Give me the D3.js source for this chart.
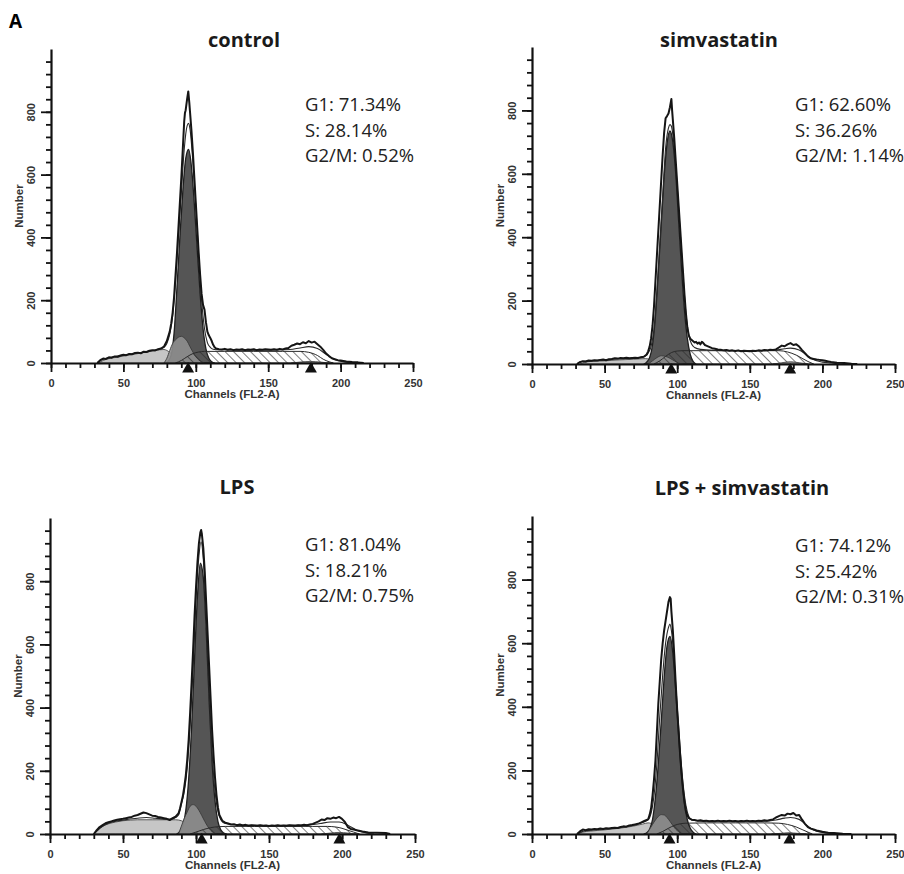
<!DOCTYPE html>
<html>
<head>
<meta charset="utf-8">
<script src="https://cdn.jsdelivr.net/npm/d3@7"></script>
<style>
  body { margin: 0; background: #fff; }
  svg { display: block; }
</style>
</head>
<body>
<div id="chart"></div>
<script>
// panel titles and ModFit percentages
const titles = ["control", "simvastatin", "LPS", "LPS + simvastatin"];
const controlStats = ["G1: 71.34%", "S: 28.14%", "G2/M: 0.52%"];
const simStats = ["G1: 62.60%", "S: 36.26%", "G2/M: 1.14%"];
const lpsStats = ["G1: 81.04%", "S: 18.21%", "G2/M: 0.75%"];
const lsStats = ["G1: 74.12%", "S: 25.42%", "G2/M: 0.31%"];

// peak means (channel) marked with triangles
const controlMarks = [94.7, 179.5];
const simMarks = [95.9, 177.8];
const lpsMarks = [103.9, 198.2];
const lsMarks = [94.7, 177.3];

// [channel, count]
const controlRaw = [[32,0],[34,9],[36,14],[38,13],[40,18],[42,17],[44,21],[46,20],[48,24],[50,26],[52,25],[54,29],[56,28],[58,32],[60,33],[62,31],[64,36],[66,35],[68,39],[70,41],[72,40],[74,44],[76,46],[78,52],[80,70],[82,100],[83,125],[84,160],[85,210],[86,280],[87,350],[88,430],[89,510],[90,590],[91,680],[92,770],[92.5,796],[93,805],[94,840],[94.8,865],[95.5,830],[96,800],[97,740],[98,670],[99,590],[100,510],[101,430],[102,350],[103,280],[104,220],[105,185],[106,170],[107,130],[108,100],[109,88],[110,80],[111,70],[112,58],[113,50],[114,46],[116,44],[118,43],[120,45],[122,42],[124,44],[126,41],[128,43],[130,42],[132,44],[134,41],[136,43],[138,42],[140,44],[142,41],[144,43],[146,42],[148,44],[150,43],[152,42],[154,44],[156,42],[158,45],[160,43],[162,46],[164,48],[166,55],[168,58],[170,62],[172,60],[174,66],[176,63],[178,70],[180,65],[182,68],[184,60],[186,52],[188,42],[190,30],[192,22],[194,15],[196,12],[198,9],[200,8],[204,5],[208,3],[212,2],[216,0]];
const controlFit = [[32,0],[34,8],[40,17],[50,25],[60,32],[70,40],[76,46],[78,50],[80,62],[82,92],[84,150],[86,260],[88,400],[90,540],[92,680],[94,755],[95,763],[96,745],[98,640],[100,500],[102,340],[104,200],[106,110],[108,65],[110,50],[112,44],[116,42],[130,41],[150,41],[165,43],[172,48],[178,52],[184,46],[190,28],[195,13],[200,6],[205,2],[210,0]];
const controlDebris = [[33,0],[36,8],[40,14],[45,18],[50,22],[55,26],[60,30],[65,34],[70,38],[75,42],[78,43],[80,40],[82,34],[84,26],[86,18],[88,10],[90,4],[92,0]];
const controlHump = [[78,0],[80,15],[82,40],[84,62],[86,74],[88,82],[90,85],[92,80],[94,70],[96,52],[98,35],[100,20],[102,10],[104,4],[106,0]];
const controlG1 = [[79,0],[81,6],[83,25],[85,95],[87,240],[89,400],[91,545],[93,650],[95,680],[97,625],[99,505],[101,360],[103,220],[105,110],[107,45],[109,15],[111,4],[113,0]];
const controlS = [[86,0],[90,8],[94,20],[98,30],[102,35],[106,37],[120,37],[140,37],[160,37],[172,37],[178,34],[184,24],[188,12],[192,4],[195,0]];
const controlG2 = [[166,0],[172,3],[179,5],[186,3],[192,0]];

const simRaw = [[31,0],[33,6],[35,9],[37,8],[39,11],[41,10],[43,12],[45,11],[47,13],[49,14],[51,12],[53,15],[55,16],[57,18],[59,17],[61,19],[63,18],[65,20],[67,18],[69,19],[71,20],[73,19],[75,21],[77,23],[79,30],[80,40],[81,55],[82,80],[83,120],[84,180],[85,260],[86,340],[87,420],[88,500],[89,580],[90,660],[91,730],[92,775],[93,782],[94,790],[95,810],[96,836],[96.5,800],[97,770],[98,710],[99,640],[100,570],[101,500],[102,430],[103,360],[104,290],[105,220],[106,160],[107,115],[108,90],[109,80],[110,76],[111,72],[112,68],[113,70],[114,64],[115,68],[116,62],[117,70],[118,66],[119,60],[120,58],[122,54],[124,50],[126,48],[128,46],[130,45],[132,43],[134,44],[136,42],[138,43],[140,41],[142,43],[144,40],[146,42],[148,41],[150,40],[152,42],[154,41],[156,43],[158,42],[160,44],[162,43],[164,45],[166,44],[168,46],[170,52],[172,58],[174,56],[176,62],[178,66],[180,60],[182,62],[184,55],[186,44],[188,34],[190,24],[192,18],[194,16],[196,14],[198,13],[200,12],[202,10],[204,8],[206,6],[210,4],[215,3],[220,1],[224,0]];
const simFit = [[31,0],[33,6],[40,10],[50,13],[60,17],[70,19],[76,22],[78,25],[80,35],[82,55],[84,110],[86,230],[88,380],[90,530],[92,680],[94,745],[95,755],[96,750],[98,680],[100,560],[102,420],[104,280],[106,160],[108,90],[110,62],[112,52],[116,46],[125,43],[140,42],[160,42],[168,44],[174,48],[178,50],[184,44],[188,32],[192,18],[196,10],[200,6],[206,3],[212,0]];
const simDebris = [[33,0],[36,5],[40,8],[50,10],[60,13],[70,15],[78,17],[82,14],[86,9],[90,4],[94,0]];
const simHump = [[80,0],[83,10],[86,20],[89,26],[92,24],[95,18],[98,10],[101,3],[104,0]];
const simG1 = [[77,0],[79,6],[81,20],[83,60],[85,150],[87,290],[89,440],[91,590],[93,695],[95,735],[97,700],[99,600],[101,450],[103,300],[105,170],[107,80],[109,30],[111,8],[113,0]];
const simS = [[84,0],[88,10],[92,24],[96,36],[100,41],[104,42],[120,42],[140,42],[160,42],[170,42],[176,38],[182,28],[186,18],[190,8],[194,0]];
const simG2 = [[166,0],[172,4],[178,7],[184,4],[190,0]];

const lpsRaw = [[30,0],[32,12],[34,22],[36,28],[38,34],[40,37],[42,40],[44,43],[46,45],[48,47],[50,48],[52,50],[54,52],[56,54],[58,58],[60,60],[62,64],[64,68],[66,66],[68,62],[70,58],[72,57],[74,54],[76,52],[78,50],[80,48],[82,44],[84,50],[86,55],[88,65],[89,80],[90,100],[91,120],[92,150],[93,185],[94,235],[95,300],[96,385],[97,480],[98,580],[99,690],[100,780],[101,860],[102,920],[103,955],[103.5,962],[104,950],[105,905],[106,830],[107,730],[108,630],[109,530],[110,430],[111,330],[112,250],[113,180],[114,125],[115,85],[116,60],[118,42],[120,36],[122,33],[124,30],[126,31],[128,28],[130,30],[132,27],[134,29],[136,26],[138,28],[140,27],[142,26],[144,28],[146,26],[148,27],[150,25],[152,27],[154,26],[156,28],[158,26],[160,27],[162,26],[164,28],[166,27],[168,26],[170,28],[172,27],[174,29],[176,28],[178,30],[180,32],[182,36],[184,40],[186,46],[188,44],[190,50],[192,48],[194,52],[196,50],[198,54],[200,48],[202,38],[204,22],[206,16],[208,14],[210,12],[214,8],[218,5],[224,4],[230,3],[233,0]];
const lpsFit = [[30,0],[34,18],[40,34],[50,44],[60,50],[66,52],[72,50],[80,47],[84,48],[86,52],[88,60],[90,95],[92,135],[94,210],[96,345],[98,520],[100,740],[102,880],[103.4,925],[105,870],[107,690],[109,460],[111,260],[113,135],[115,72],[117,45],[120,33],[130,28],[150,27],[175,28],[185,33],[192,38],[198,38],[204,28],[210,12],[216,4],[222,0]];
const lpsDebris = [[30,0],[33,12],[36,24],[40,32],[45,38],[50,42],[55,44],[60,45],[70,45],[80,45],[86,45],[90,42],[94,32],[98,18],[102,6],[105,0]];
const lpsHump = [[88,0],[90,25],[92,50],[94,70],[96,88],[98,93],[100,88],[102,75],[104,58],[106,40],[108,24],[110,12],[112,4],[114,0]];
const lpsG1 = [[87,0],[89,8],[91,26],[93,74],[95,175],[97,339],[99,555],[101,752],[103,857],[105,812],[107,643],[109,422],[111,229],[113,106],[115,40],[117,13],[119,3],[121,0]];
const lpsS = [[96,0],[100,6],[105,14],[110,20],[115,23],[120,24],[140,24],[160,24],[180,24],[190,24],[196,22],[200,18],[204,12],[208,6],[212,0]];
const lpsG2 = [[186,0],[192,3],[198,5],[204,3],[210,0]];

const lsRaw = [[31,0],[33,8],[35,14],[37,12],[39,15],[41,14],[43,16],[45,15],[47,17],[49,16],[51,18],[53,17],[55,19],[57,20],[59,19],[61,22],[63,24],[65,23],[67,27],[69,28],[71,30],[73,32],[75,36],[77,40],[79,44],[80,46],[81,60],[82,80],[83,120],[84,170],[85,230],[86,320],[87,410],[88,480],[89,550],[90,600],[91,640],[92,670],[93,700],[94,730],[95,745],[95.5,740],[96,700],[97,640],[98,560],[99,470],[100,390],[101,320],[102,250],[103,190],[104,140],[105,100],[106,72],[107,58],[108,50],[110,45],[112,44],[114,42],[116,43],[118,41],[120,42],[122,40],[124,41],[126,40],[128,42],[130,40],[132,41],[134,40],[136,42],[138,40],[140,41],[142,39],[144,41],[146,40],[148,42],[150,40],[152,41],[154,40],[156,42],[158,41],[160,43],[162,42],[164,44],[166,46],[168,52],[170,56],[172,60],[174,58],[176,64],[178,62],[180,66],[182,58],[184,60],[186,45],[188,32],[190,22],[192,17],[194,14],[196,11],[200,7],[204,4],[208,3],[214,1],[220,0]];
const lsFit = [[31,0],[33,5],[40,12],[50,16],[60,20],[70,28],[76,36],[80,45],[82,65],[84,120],[86,220],[88,370],[90,500],[92,600],[94,650],[95,660],[96,640],[98,540],[100,400],[102,270],[104,160],[106,90],[108,55],[110,44],[114,41],[120,40],[140,40],[160,40],[168,44],[174,50],[178,52],[184,46],[188,32],[192,18],[196,9],[200,5],[206,2],[212,0]];
const lsDebris = [[32,0],[35,6],[40,9],[50,13],[60,18],[70,25],[76,31],[80,35],[84,30],[88,22],[92,12],[96,4],[100,0]];
const lsHump = [[79,0],[81,15],[83,30],[85,44],[87,55],[89,61],[91,60],[93,52],[95,40],[97,27],[99,15],[101,7],[103,0]];
const lsG1 = [[77,0],[79,4],[81,15],[83,45],[85,115],[87,221],[89,353],[91,491],[93,591],[95,621],[97,568],[99,450],[101,311],[103,187],[105,98],[107,44],[109,18],[111,6],[113,0]];
const lsS = [[86,0],[90,8],[94,18],[98,27],[102,32],[106,34],[120,35],[140,35],[160,35],[170,34],[176,30],[182,22],[186,14],[190,6],[193,0]];
const lsG2 = [[165,0],[171,2],[177,4],[183,2],[189,0]];

const xMajor = [0, 50, 100, 150, 200, 250];
const yMajor = [0, 200, 400, 600, 800];

// where each panel sits on the page
const layout = [
    { left: 51, right: 413, axisY: 363, topY: 49, titleX: 244, titleY: 47, statX: 305, statY: 111 },
    { left: 532, right: 895, axisY: 364, topY: 47, titleX: 719, titleY: 47, statX: 795, statY: 111 },
    { left: 50, right: 415, axisY: 834, topY: 518, titleX: 237, titleY: 494, statX: 305, statY: 551 },
    { left: 532, right: 895, axisY: 834, topY: 516, titleX: 742, titleY: 495, statX: 795, statY: 552 }
];

const panels = [
    { raw: controlRaw, fit: controlFit, debris: controlDebris, hump: controlHump, g1: controlG1, s: controlS, g2: controlG2, marks: controlMarks, stats: controlStats },
    { raw: simRaw, fit: simFit, debris: simDebris, hump: simHump, g1: simG1, s: simS, g2: simG2, marks: simMarks, stats: simStats },
    { raw: lpsRaw, fit: lpsFit, debris: lpsDebris, hump: lpsHump, g1: lpsG1, s: lpsS, g2: lpsG2, marks: lpsMarks, stats: lpsStats },
    { raw: lsRaw, fit: lsFit, debris: lsDebris, hump: lsHump, g1: lsG1, s: lsS, g2: lsG2, marks: lsMarks, stats: lsStats }
];

const W = 904, H = 874;
const axisFont = "'Liberation Sans', Arial, sans-serif";

const svg = d3.select("#chart")
    .append("svg")
    .attr("width", W)
    .attr("height", H);

// hatch for the S phase
svg.append("defs")
    .append("pattern")
    .attr("id", "hatch")
    .attr("patternUnits", "userSpaceOnUse")
    .attr("width", 6)
    .attr("height", 6)
    .attr("patternTransform", "rotate(-45)")
    .append("line")
    .attr("x1", 0).attr("y1", 0)
    .attr("x2", 0).attr("y2", 6)
    .attr("stroke", "#2a2a2a")
    .attr("stroke-width", 1.2);

svg.append("text")
    .attr("x", 9)
    .attr("y", 28)
    .style("font-family", "'Open Sans', sans-serif")
    .style("font-weight", 700)
    .style("font-size", "19px")
    .text("A");

panels.forEach(function (p, i) {
    const L = layout[i];
    const x = d3.scaleLinear().domain([0, 250]).range([L.left, L.right]);
    const y = d3.scaleLinear().domain([0, 1000]).range([L.axisY, L.topY]);
    const g = svg.append("g");

    const area = d3.area()
        .x(d => x(d[0]))
        .y0(y(0))
        .y1(d => y(d[1]))
        .curve(d3.curveMonotoneX);
    const smooth = d3.line()
        .x(d => x(d[0]))
        .y(d => y(d[1]))
        .curve(d3.curveMonotoneX);
    const jagged = d3.line()
        .x(d => x(d[0]))
        .y(d => y(d[1]));

    // model components (second diploid bump sits over the G1 peak)
    g.append("path").datum(p.debris).attr("d", area)
        .attr("fill", "#c6c6c6").attr("stroke", "#4a4a4a").attr("stroke-width", 0.9);
    g.append("path").datum(p.g1).attr("d", area)
        .attr("fill", "#555").attr("stroke", "#1e1e1e").attr("stroke-width", 1.3);
    g.append("path").datum(p.hump).attr("d", area)
        .attr("fill", "#8e8e8e").attr("fill-opacity", 0.9)
        .attr("stroke", "#3a3a3a").attr("stroke-width", 0.9);
    g.append("path").datum(p.s).attr("d", area)
        .attr("fill", "url(#hatch)").attr("stroke", "#2a2a2a").attr("stroke-width", 1);
    g.append("path").datum(p.g2).attr("d", area)
        .attr("fill", "#8e8e8e").attr("stroke", "#3a3a3a").attr("stroke-width", 0.8);

    // model sum and raw histogram
    g.append("path").datum(p.fit).attr("d", smooth)
        .attr("fill", "none").attr("stroke", "#2a2a2a").attr("stroke-width", 1.1);
    g.append("path").datum(p.raw).attr("d", jagged)
        .attr("fill", "none").attr("stroke", "#151515").attr("stroke-width", 2)
        .attr("stroke-linejoin", "round");

    // x axis
    const xMinor = g.append("g")
        .attr("transform", `translate(0,${L.axisY})`)
        .call(d3.axisBottom(x).tickValues(d3.range(0, 251, 10)).tickSize(5).tickFormat(""));
    xMinor.select(".domain").remove();
    g.append("g")
        .attr("transform", `translate(0,${L.axisY})`)
        .call(d3.axisBottom(x).tickValues(xMajor).tickSize(9).tickSizeOuter(0).tickPadding(7));

    // y axis
    const yMinor = g.append("g")
        .attr("transform", `translate(${L.left},0)`)
        .call(d3.axisLeft(y).tickValues(d3.range(0, 1000, 40)).tickSize(5).tickFormat(""));
    yMinor.select(".domain").remove();
    const yAx = g.append("g")
        .attr("transform", `translate(${L.left},0)`)
        .call(d3.axisLeft(y).tickValues(yMajor).tickSize(10).tickSizeOuter(0));
    yAx.selectAll(".tick text")
        .attr("x", null).attr("dy", null)
        .attr("transform", "translate(-16,0) rotate(-90)")
        .attr("text-anchor", "middle");

    g.selectAll(".domain").attr("stroke", "#111").attr("stroke-width", 2.2);
    g.selectAll(".tick line").attr("stroke", "#111").attr("stroke-width", 1.8);
    g.selectAll(".tick text")
        .attr("fill", "#333")
        .style("font-family", axisFont)
        .style("font-weight", 700)
        .style("font-size", "11px");

    // peak markers
    g.selectAll(".mark")
        .data(p.marks)
        .join("path")
        .attr("class", "mark")
        .attr("d", d3.symbol(d3.symbolTriangle, 62))
        .attr("transform", d => `translate(${x(d)},${L.axisY + 6})`)
        .attr("fill", "#111");

    // axis titles
    g.append("text")
        .attr("x", x(125))
        .attr("y", L.axisY + 35)
        .attr("text-anchor", "middle")
        .attr("fill", "#333")
        .style("font-family", axisFont)
        .style("font-weight", 700)
        .style("font-size", "11.5px")
        .text("Channels (FL2-A)");
    g.append("text")
        .attr("transform", `translate(${L.left - 28},${y(500)}) rotate(-90)`)
        .attr("text-anchor", "middle")
        .attr("fill", "#333")
        .style("font-family", axisFont)
        .style("font-weight", 700)
        .style("font-size", "11.5px")
        .text("Number");

    // panel title
    g.append("text")
        .attr("x", L.titleX)
        .attr("y", L.titleY)
        .attr("text-anchor", "middle")
        .attr("fill", "#1a1a1a")
        .style("font-family", "'Open Sans', sans-serif")
        .style("font-weight", 700)
        .style("font-size", "20px")
        .text(titles[i]);

    // phase percentages
    g.selectAll(".stat")
        .data(p.stats)
        .join("text")
        .attr("class", "stat")
        .attr("x", L.statX)
        .attr("y", (d, k) => L.statY + k * 25.5)
        .attr("fill", "#222")
        .style("font-family", "'Open Sans', sans-serif")
        .style("font-size", "18.5px")
        .text(d => d);
});
</script>
</body>
</html>
